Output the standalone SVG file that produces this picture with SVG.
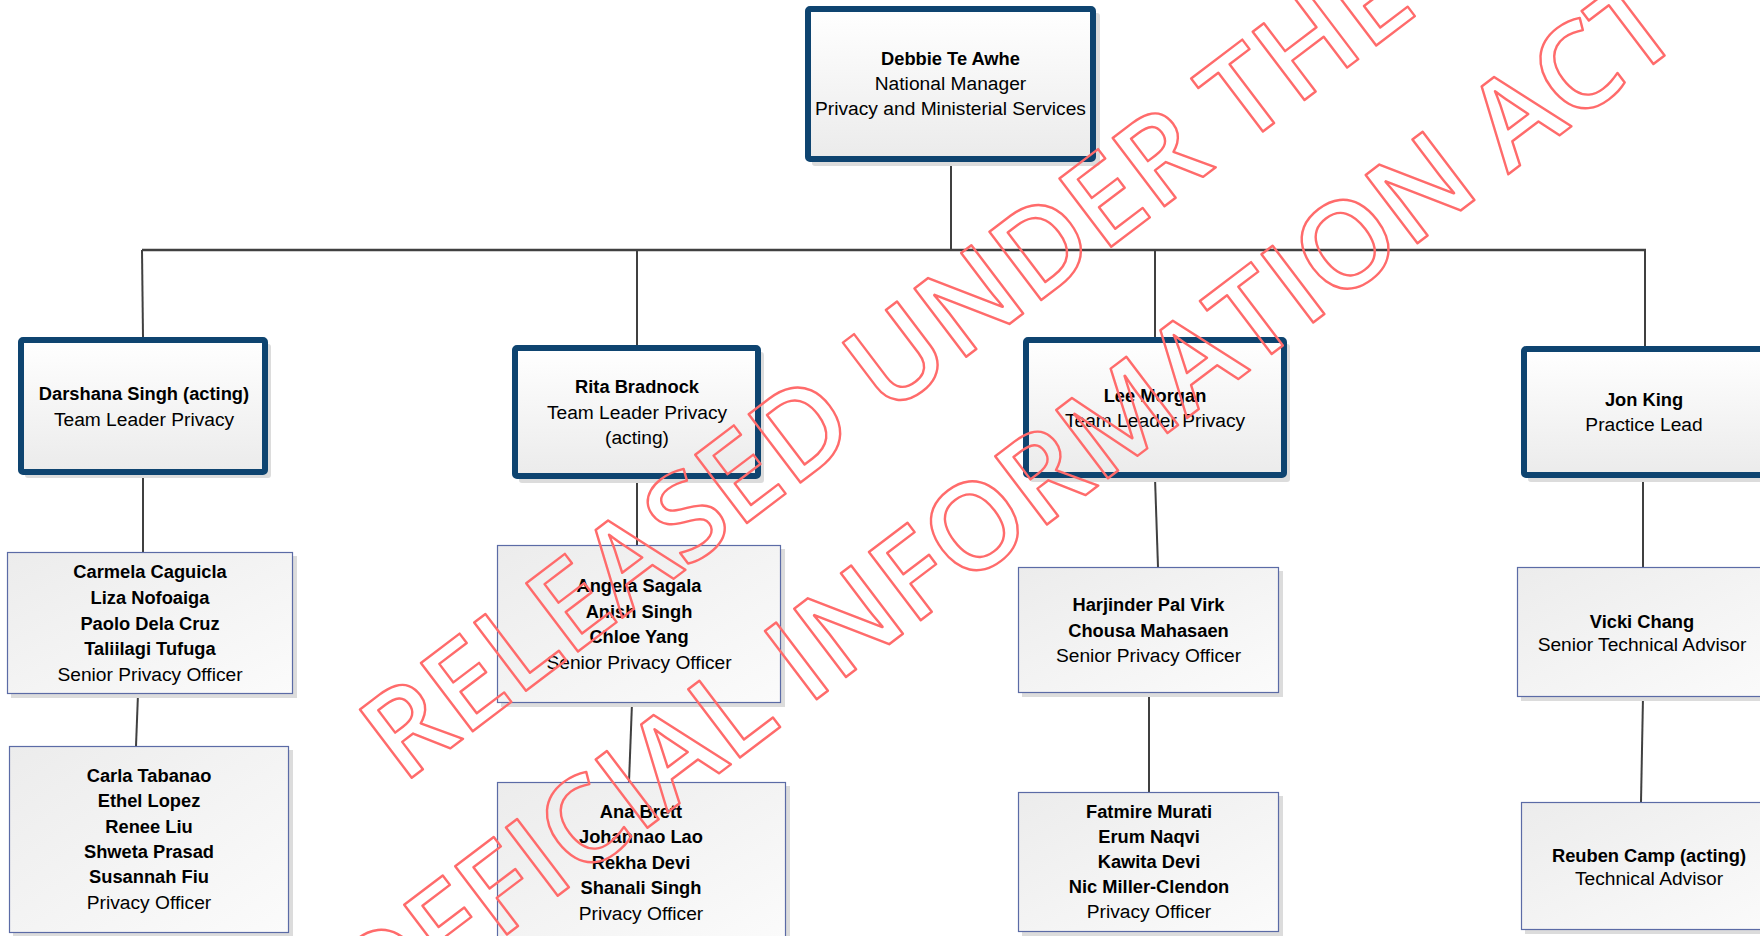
<svg xmlns="http://www.w3.org/2000/svg" width="1760" height="936" viewBox="0 0 1760 936">
<defs>
<linearGradient id="gThick" x1="0" y1="0" x2="0" y2="1">
<stop offset="0" stop-color="#ffffff"/>
<stop offset="1" stop-color="#ebebeb"/>
</linearGradient>
<linearGradient id="gThin" x1="0" y1="0" x2="1" y2="1">
<stop offset="0" stop-color="#ececec"/>
<stop offset="1" stop-color="#fbfbfb"/>
</linearGradient>
</defs>
<style>
.shadow{fill:#dcdcdc}
.thick{fill:url(#gThick);stroke:#0e4470;stroke-width:6;stroke-linejoin:round}
.thin{fill:url(#gThin);stroke:#5b6ba6;stroke-width:1.2}
.conn{stroke:#404040;stroke-width:2;fill:none}
.bus{stroke:#404040;stroke-width:2.6;fill:none}
.t{font-family:"Liberation Sans",Arial,sans-serif;font-size:19.2px;fill:#000;text-anchor:middle}
.b{font-weight:bold;font-size:18.3px}
.wm{font-family:"Open Sans","Noto Sans",sans-serif;font-size:120px;font-weight:600;fill:none;stroke:#ff6b6b;stroke-width:2.4;stroke-linejoin:round;text-anchor:end}
</style>
<rect width="1760" height="936" fill="#ffffff"/>

<g id="connectors">
<line class="conn" x1="951" y1="162" x2="951" y2="250"/>
<line class="bus" x1="142" y1="250" x2="1646" y2="250"/>
<line class="conn" x1="142" y1="250" x2="143" y2="337"/>
<line class="conn" x1="637" y1="250" x2="637" y2="345"/>
<line class="conn" x1="1155" y1="250" x2="1155" y2="337"/>
<line class="conn" x1="1645" y1="250" x2="1645" y2="346"/>
<line class="conn" x1="143" y1="475" x2="143" y2="552"/>
<line class="conn" x1="138" y1="694" x2="136" y2="746"/>
<line class="conn" x1="637" y1="479" x2="637" y2="545"/>
<line class="conn" x1="632" y1="703" x2="629" y2="782"/>
<line class="conn" x1="1155" y1="478" x2="1158" y2="567"/>
<line class="conn" x1="1149" y1="693" x2="1149" y2="792"/>
<line class="conn" x1="1643" y1="478" x2="1643" y2="567"/>
<line class="conn" x1="1643" y1="697" x2="1641" y2="802"/>
</g>

<g id="n-debbie" class="t">
<rect class="shadow" x="812" y="13" width="288" height="153" rx="3"/>
<rect class="thick" x="808" y="9" width="285" height="150" rx="2"/>
<text x="950.5" y="65" class="b">Debbie Te Awhe</text>
<text x="950.5" y="90">National Manager</text>
<text x="950.5" y="115">Privacy and Ministerial Services</text>
</g>

<g id="n-darshana" class="t">
<rect class="shadow" x="25" y="344" width="246" height="134" rx="3"/>
<rect class="thick" x="21" y="340" width="244" height="132" rx="2"/>
<text x="144" y="400" class="b">Darshana Singh (acting)</text>
<text x="144" y="426">Team Leader Privacy</text>
</g>

<g id="n-rita" class="t">
<rect class="shadow" x="519" y="352" width="245" height="131" rx="3"/>
<rect class="thick" x="515" y="348" width="243" height="128" rx="2"/>
<text x="637" y="393" class="b">Rita Bradnock</text>
<text x="637" y="419">Team Leader Privacy</text>
<text x="637" y="444">(acting)</text>
</g>

<g id="n-lee" class="t">
<rect class="shadow" x="1030" y="344" width="260" height="138" rx="3"/>
<rect class="thick" x="1026" y="340" width="258" height="135" rx="2"/>
<text x="1155" y="402" class="b">Lee Morgan</text>
<text x="1155" y="427">Team Leader Privacy</text>
</g>

<g id="n-jon" class="t">
<rect class="shadow" x="1528" y="353" width="245" height="129" rx="3"/>
<rect class="thick" x="1524" y="349" width="243" height="126" rx="2"/>
<text x="1644" y="406" class="b">Jon King</text>
<text x="1644" y="431">Practice Lead</text>
</g>

<g id="n-carmela" class="t">
<rect class="shadow" x="11" y="556" width="286" height="142"/>
<rect class="thin" x="7.5" y="552.5" width="285" height="141"/>
<text x="150" y="578" class="b">Carmela Caguicla</text>
<text x="150" y="604" class="b">Liza Nofoaiga</text>
<text x="150" y="629.5" class="b">Paolo Dela Cruz</text>
<text x="150" y="655" class="b">Taliilagi Tufuga</text>
<text x="150" y="680.5">Senior Privacy Officer</text>
</g>

<g id="n-carla" class="t">
<rect class="shadow" x="13" y="750" width="280" height="187"/>
<rect class="thin" x="9.5" y="746.5" width="279" height="186"/>
<text x="149" y="782" class="b">Carla Tabanao</text>
<text x="149" y="807.3" class="b">Ethel Lopez</text>
<text x="149" y="832.6" class="b">Renee Liu</text>
<text x="149" y="857.9" class="b">Shweta Prasad</text>
<text x="149" y="883.2" class="b">Susannah Fiu</text>
<text x="149" y="908.5">Privacy Officer</text>
</g>

<g id="n-angela" class="t">
<rect class="shadow" x="501" y="549" width="284" height="158"/>
<rect class="thin" x="497.5" y="545.5" width="283" height="157"/>
<text x="639" y="592" class="b">Angela Sagala</text>
<text x="639" y="617.5" class="b">Anish Singh</text>
<text x="639" y="643" class="b">Chloe Yang</text>
<text x="639" y="668.5">Senior Privacy Officer</text>
</g>

<g id="n-ana" class="t">
<rect class="shadow" x="501" y="786" width="289" height="160"/>
<rect class="thin" x="497.5" y="782.5" width="288" height="160"/>
<text x="641" y="817.5" class="b">Ana Brett</text>
<text x="641" y="843" class="b">Johannao Lao</text>
<text x="641" y="868.5" class="b">Rekha Devi</text>
<text x="641" y="894" class="b">Shanali Singh</text>
<text x="641" y="919.5">Privacy Officer</text>
</g>

<g id="n-harjinder" class="t">
<rect class="shadow" x="1022" y="571" width="261" height="126"/>
<rect class="thin" x="1018.5" y="567.5" width="260" height="125"/>
<text x="1148.5" y="611" class="b">Harjinder Pal Virk</text>
<text x="1148.5" y="637" class="b">Chousa Mahasaen</text>
<text x="1148.5" y="662">Senior Privacy Officer</text>
</g>

<g id="n-fatmire" class="t">
<rect class="shadow" x="1022" y="796" width="261" height="140"/>
<rect class="thin" x="1018.5" y="792.5" width="260" height="139"/>
<text x="1149" y="818.3" class="b">Fatmire Murati</text>
<text x="1149" y="843.3" class="b">Erum Naqvi</text>
<text x="1149" y="868.3" class="b">Kawita Devi</text>
<text x="1149" y="893.3" class="b">Nic Miller-Clendon</text>
<text x="1149" y="918.3">Privacy Officer</text>
</g>

<g id="n-vicki" class="t">
<rect class="shadow" x="1521" y="571" width="260" height="130"/>
<rect class="thin" x="1517.5" y="567.5" width="260" height="129"/>
<text x="1642" y="627.5" class="b">Vicki Chang</text>
<text x="1642" y="651">Senior Technical Advisor</text>
</g>

<g id="n-reuben" class="t">
<rect class="shadow" x="1525" y="806" width="260" height="128"/>
<rect class="thin" x="1521.5" y="802.5" width="260" height="127"/>
<text x="1649" y="861.5" class="b">Reuben Camp (acting)</text>
<text x="1649" y="884.5">Technical Advisor</text>
</g>

<g id="watermark" transform="rotate(-36.5)">
<text class="wm" x="1135" y="854.5" transform="rotate(-0.7 1135 854.5)">RELEASED UNDER THE</text>
<text class="wm" x="1332" y="1034.5" transform="rotate(-0.7 1332 1034.5)">OFFICIAL INFORMATION ACT</text>
</g>
</svg>
